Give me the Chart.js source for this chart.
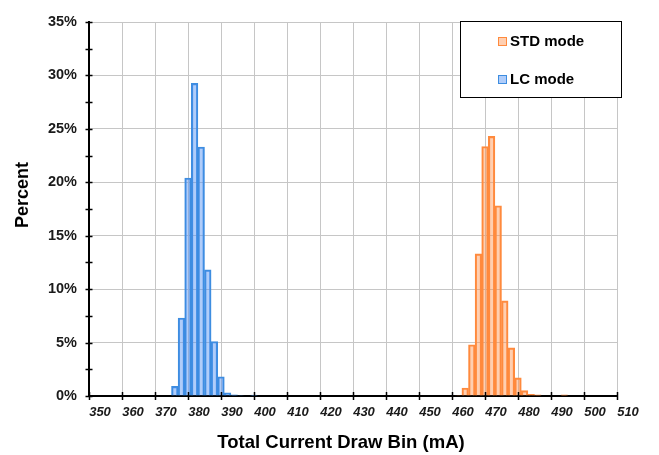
<!DOCTYPE html>
<html>
<head>
<meta charset="utf-8">
<script src="https://cdn.jsdelivr.net/npm/chart.js@4"></script>
<style>
  html, body { margin: 0; padding: 0; background: #fff; }
  #wrap { width: 659px; height: 455px; }
</style>
</head>
<body>
<div id="wrap"><canvas id="c" width="659" height="455"></canvas></div>
<script>
// ---- data (bin centres in mA, values in percent) ----
const seriesNames = ['STD mode', 'LC mode'];
const stdBins   = [462, 464, 466, 468, 470, 472, 474, 476, 478, 480, 482, 484, 486, 494];
const stdValues = [0.05, 0.75, 4.8, 13.3, 23.35, 24.3, 17.8, 8.9, 4.5, 1.7, 0.5, 0.15, 0.1, 0.1];
const lcBins    = [376, 378, 380, 382, 384, 386, 388, 390, 392, 394, 396, 400];
const lcValues  = [0.9, 7.3, 20.4, 29.25, 23.3, 11.8, 5.1, 1.8, 0.3, 0.12, 0.05, 0.08];
const xTitle = 'Total Current Draw Bin (mA)';
const yTitle = 'Percent';

const FONT = "'Liberation Sans', Arial, sans-serif";
const stdFill = 'rgba(255,140,70,0.42)', stdLine = '#ff8a3d';
const lcFill = 'rgba(80,145,245,0.45)', lcLine = '#3d8de0';

const overlay = {
  id: 'overlay',
  afterDraw(chart) {
    const ctx = chart.ctx;
    const xs = chart.scales.x, ys = chart.scales.y;
    const area = chart.chartArea;
    ctx.save();
    ctx.strokeStyle = '#000';
    ctx.lineWidth = 1.5;
    ctx.beginPath();
    ys.ticks.forEach(t => {
      const py = Math.round(ys.getPixelForValue(t.value)) + 0.5;
      ctx.moveTo(area.left - 3.5, py); ctx.lineTo(area.left + 3.5, py);
    });
    xs.ticks.forEach(t => {
      const px = Math.round(xs.getPixelForValue(t.value)) + 0.5;
      ctx.moveTo(px, area.bottom - 4); ctx.lineTo(px, area.bottom + 4);
    });
    ctx.stroke();

    // axis titles
    ctx.fillStyle = '#000';
    ctx.font = "bold 18.5px " + FONT;
    ctx.textAlign = 'center';
    ctx.textBaseline = 'middle';
    ctx.fillText(xTitle, 341, 443);
    ctx.save();
    ctx.translate(23, 195);
    ctx.rotate(-Math.PI / 2);
    ctx.font = "bold 18px " + FONT;
    ctx.fillText(yTitle, 0, 0);
    ctx.restore();

    // legend box
    const L = 460, T = 21, W = 161, H = 76;
    ctx.fillStyle = '#fff';
    ctx.fillRect(L, T, W, H);
    ctx.lineWidth = 1;
    ctx.strokeStyle = '#000';
    ctx.strokeRect(L + 0.5, T + 0.5, W, H);
    const items = [
      {text: seriesNames[0], fill: stdFill, line: stdLine, y: 41},
      {text: seriesNames[1], fill: lcFill, line: lcLine, y: 79}
    ];
    ctx.font = "bold 15px " + FONT;
    ctx.textBaseline = 'middle';
    ctx.textAlign = 'left';
    items.forEach(it => {
      ctx.fillStyle = '#fff';
      ctx.fillRect(498, it.y - 4, 9, 9);
      ctx.fillStyle = it.fill;
      ctx.fillRect(498, it.y - 4, 9, 9);
      ctx.strokeStyle = it.line;
      ctx.lineWidth = 1;
      ctx.strokeRect(498.5, it.y - 3.5, 8, 8);
      ctx.fillStyle = '#000';
      ctx.fillText(it.text, 510, it.y + 1);
    });
    ctx.restore();
  }
};

new Chart(document.getElementById('c'), {
  type: 'bar',
  data: {
    datasets: [
      {
        label: seriesNames[0],
        data: stdBins.map((b, i) => ({x: b, y: stdValues[i]})),
        backgroundColor: stdFill, borderColor: stdLine, borderWidth: 1.5,
        grouped: false, barPercentage: 1, categoryPercentage: 1
      },
      {
        label: seriesNames[1],
        data: lcBins.map((b, i) => ({x: b, y: lcValues[i]})),
        backgroundColor: lcFill, borderColor: lcLine, borderWidth: 1.5,
        grouped: false, barPercentage: 1, categoryPercentage: 1
      }
    ]
  },
  options: {
    responsive: false,
    animation: false,
    layout: { padding: { left: 0, top: 22, right: 42, bottom: 0 } },
    plugins: { legend: { display: false }, tooltip: { enabled: false } },
    scales: {
      x: {
        type: 'linear', min: 350, max: 510, offset: false,
        grid: { color: '#c6c6c6', lineWidth: 1, drawTicks: false, offset: false },
        border: { color: '#000', width: 2 },
        ticks: {
          stepSize: 10, autoSkip: false, maxRotation: 0, padding: 9, labelOffset: 11,
          color: '#1a1a1a', font: { family: FONT, size: 13, weight: 'bold', style: 'italic' }
        },
        title: { display: false, text: xTitle },
        afterFit: s => { s.height = 59; }
      },
      y: {
        min: 0, max: 35,
        grid: {
          color: c => (c.tick && Math.abs(c.tick.value % 5) < 1e-6) ? '#c6c6c6' : 'rgba(0,0,0,0)',
          lineWidth: 1, drawTicks: false
        },
        border: { color: '#000', width: 2 },
        ticks: {
          stepSize: 2.5, autoSkip: false, padding: 12, color: '#1a1a1a',
          font: { family: FONT, size: 14.5, weight: 'bold' },
          callback: v => (Math.abs(v % 5) < 1e-6) ? v + '%' : ''
        },
        title: { display: false, text: yTitle },
        afterFit: s => { s.width = 89; }
      }
    }
  },
  plugins: [overlay]
});
</script>
</body>
</html>
